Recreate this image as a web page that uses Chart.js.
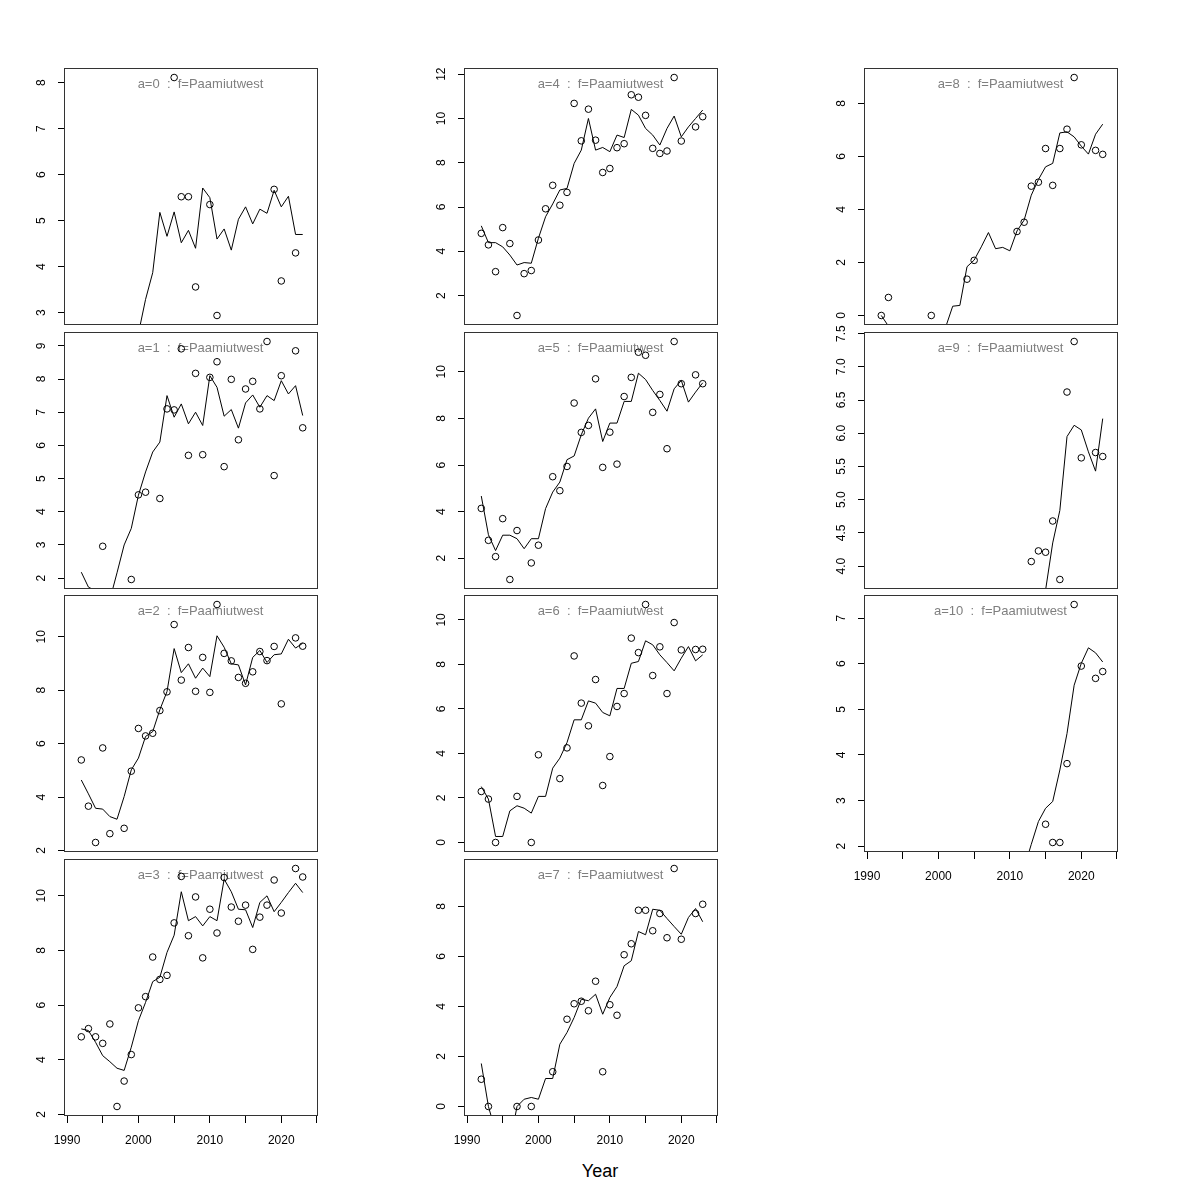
<!DOCTYPE html>
<html>
<head>
<meta charset="utf-8">
<script src="https://cdn.jsdelivr.net/npm/chart.js@4.4.1/dist/chart.umd.min.js"></script>
<style>
  body { margin: 0; background: #fff; width: 1200px; height: 1200px; position: relative; overflow: hidden;
         font-family: "Liberation Sans", Arial, Helvetica, sans-serif; }
  .panel { position: absolute; }
  #xlab { position: absolute; left: 0; width: 1200px; top: 1161px; line-height: 20px;
          text-align: center; font-size: 18px; color: #000; }
</style>
</head>
<body>
<div id="xlab">Year</div>
<script>
// survey years and axis ticks
const years = [1992, 1993, 1994, 1995, 1996, 1997, 1998, 1999, 2000, 2001, 2002, 2003, 2004, 2005, 2006, 2007,
               2008, 2009, 2010, 2011, 2012, 2013, 2014, 2015, 2016, 2017, 2018, 2019, 2020, 2021, 2022, 2023];
const xTickValues = [1990, 1995, 2000, 2005, 2010, 2015, 2020, 2025];
const xTickLabels = ["1990", "", "2000", "", "2010", "", "2020", ""];
const fleetName = "f=Paamiutwest";

// observed index (circles), null = no survey value
const obsA0 = [null, null, null, null, null, null, null, null, null, null, null, null, null, 8.11, 5.52, 5.52,
               3.56, null, 5.35, 2.94, null, null, null, null, null, null, null, 5.68, 3.69, null, 4.30, null];
const obsA1 = [null, null, null, 2.96, null, null, null, 1.96, 4.51, 4.59, null, 4.40, 7.10, 7.07, 8.91, 5.70,
               8.17, 5.72, 8.05, 8.52, 5.36, 7.99, 6.17, 7.70, 7.93, 7.10, 9.13, 5.09, 8.10, null, 8.85, 6.53];
const obsA2 = [5.39, 3.66, 2.30, 5.84, 2.63, null, 2.83, 4.97, 6.57, 6.29, 6.39, 7.24, 7.94, 10.46, 8.38, 9.60,
               7.96, 9.23, 7.92, 11.21, 9.38, 9.10, 8.48, 8.26, 8.69, 9.45, 9.11, 9.64, 7.49, null, 9.96, 9.65];
const obsA3 = [4.84, 5.14, 4.84, 4.60, 5.31, 2.29, 3.22, 4.19, 5.90, 6.31, 7.76, 6.94, 7.09, 9.01, 10.71, 8.54,
               9.96, 7.73, 9.51, 8.64, 10.67, 9.59, 9.07, 9.66, 8.04, 9.22, 9.66, 10.58, 9.37, null, 11.00, 10.69];
const obsA4 = [4.81, 4.29, 3.08, 5.07, 4.35, 1.10, 2.99, 3.13, 4.51, 5.92, 6.98, 6.08, 6.66, 10.68, 8.99, 10.42,
               9.02, 7.56, 7.74, 8.68, 8.86, 11.07, 10.96, 10.14, 8.65, 8.42, 8.53, 11.85, 8.98, null, 9.62, 10.08];
const obsA5 = [4.14, 2.77, 2.07, 3.70, 1.09, 3.19, null, 1.80, 2.56, null, 5.50, 4.90, 5.94, 8.66, 7.40, 7.70,
               9.70, 5.90, 7.41, 6.04, 8.94, 9.76, 10.84, 10.71, 8.26, 9.03, 6.70, 11.30, 9.49, null, 9.87, 9.49];
const obsA6 = [2.29, 1.95, 0, null, null, 2.07, null, 0, 3.94, null, null, 2.87, 4.25, 8.38, 6.26, 5.24,
               7.32, 2.56, 3.86, 6.11, 6.69, 9.18, 8.53, 10.69, 7.50, 8.79, 6.69, 9.88, 8.65, null, 8.67, 8.68];
const obsA7 = [1.09, 0, null, null, null, 0, null, 0, null, null, 1.39, null, 3.49, 4.11, 4.21, 3.83,
               5.01, 1.39, 4.07, 3.65, 6.07, 6.51, 7.85, 7.85, 7.03, 7.72, 6.75, 9.52, 6.69, null, 7.72, 8.09];
const obsA8 = [0, 0.68, null, null, null, null, null, 0, null, null, null, null, 1.37, 2.08, null, null,
               null, null, null, 3.17, 3.52, 4.88, 5.03, 6.30, 4.91, 6.30, 7.03, 8.98, 6.44, null, 6.23, 6.08];
const obsA9 = [null, null, null, null, null, null, null, null, null, null, null, null, null, null, null, null,
               null, null, null, null, null, 4.07, 4.23, 4.21, 4.68, 3.80, 6.62, 7.38, 5.63, null, 5.71, 5.65];
const obsA10 = [null, null, null, null, null, null, null, null, null, null, null, null, null, null, null, null,
                null, null, null, null, null, null, null, 2.48, 2.08, 2.08, 3.81, 7.30, 5.95, null, 5.68, 5.83];

// fitted index (line); null where the line is out of view
const fitA0 = [null, null, null, null, null, null, null, null, 2.55, 3.29, 3.87, 5.18, 4.66, 5.19, 4.52, 4.79,
               4.40, 5.71, 5.50, 4.60, 4.82, 4.36, 5.03, 5.30, 4.93, 5.25, 5.16, 5.66, 5.30, 5.53, 4.70, 4.70];
const fitA1 = [2.18, 1.73, 1.62, null, 1.35, 2.16, 3.00, 3.50, 4.50, 5.20, 5.80, 6.10, 7.50, 6.85, 7.25, 6.65,
               7.00, 6.60, 8.10, 7.75, 6.88, 7.08, 6.52, 7.28, 7.52, 7.15, 7.50, 7.35, 7.95, 7.55, 7.80, 6.90];
const fitA2 = [4.64, 4.12, 3.58, 3.55, 3.27, 3.17, 4.02, 5.02, 5.46, 6.27, 6.45, 7.27, 7.95, 9.56, 8.66, 8.99,
               8.45, 8.83, 8.51, 10.04, 9.61, 8.99, 8.95, 8.20, 9.23, 9.49, 9.04, 9.33, 9.36, 9.91, 9.58, 9.76];
const fitA3 = [5.13, 5.07, 4.64, 4.15, 3.93, 3.69, 3.61, 4.46, 5.43, 6.10, 6.86, 7.02, 7.93, 8.56, 10.15, 9.09,
               9.24, 8.90, 9.24, 9.09, 10.61, 10.15, 9.51, 9.49, 8.84, 9.76, 10.00, 9.42, 9.76, 10.12, 10.46, 10.12];
const fitA4 = [5.15, 4.39, 4.39, 4.20, 3.83, 3.38, 3.49, 3.46, 4.59, 5.56, 6.14, 6.77, 6.84, 7.97, 8.57, 10.00,
               8.57, 8.69, 8.50, 9.25, 9.14, 10.41, 10.15, 9.55, 9.25, 8.80, 9.55, 10.11, 9.17, 9.62, 10.00, 10.38];
const fitA5 = [4.67, 3.01, 2.33, 2.99, 2.99, 2.84, 2.41, 2.84, 2.84, 4.13, 4.84, 5.27, 6.23, 6.39, 7.30, 8.01,
               8.41, 7.01, 7.80, 7.80, 8.73, 8.73, 9.94, 9.67, 9.20, 8.77, 8.31, 9.27, 9.63, 8.70, 9.13, 9.53];
const fitA6 = [2.51, 1.95, 0.27, 0.27, 1.42, 1.65, 1.54, 1.32, 2.07, 2.07, 3.34, 3.79, 4.49, 5.51, 5.51, 6.36,
               6.26, 5.84, 5.69, 6.92, 6.92, 8.05, 8.13, 9.06, 8.88, 8.43, 8.08, 7.71, 8.28, 8.80, 8.16, 8.43];
const fitA7 = [1.72, 0.00, -1.00, null, -1.50, 0.00, 0.29, 0.36, 0.29, 1.12, 1.12, 2.49, 2.96, 3.56, 4.29, 4.23,
               4.49, 3.69, 4.36, 4.80, 5.63, 5.83, 7.00, 6.87, 7.89, 7.85, 7.52, 7.20, 6.89, 7.56, 7.92, 7.39];
const fitA8 = [0.00, -0.40, null, null, null, null, null, null, null, -0.45, 0.35, 0.38, 1.84, 2.09, 2.59, 3.13,
               2.52, 2.57, 2.44, 3.19, 3.60, 4.54, 5.13, 5.61, 5.74, 6.89, 6.93, 6.74, 6.39, 6.09, 6.84, 7.22];
const fitA9 = [null, null, null, null, null, null, null, null, null, null, null, null, null, null, null, null,
               null, null, null, null, null, null, 3.30, 3.64, 4.35, 4.84, 5.95, 6.12, 6.05, 5.72, 5.43, 6.22];
const fitA10 = [null, null, null, null, null, null, null, null, null, null, null, null, null, null, null, null,
                null, null, null, null, 1.52, 2.04, 2.54, 2.83, 2.98, 3.67, 4.47, 5.53, 6.01, 6.35, 6.24, 6.04];

// y tick labels per age panel
const yTicksA0 = ["3", "4", "5", "6", "7", "8"];
const yTicksA1 = ["2", "3", "4", "5", "6", "7", "8", "9"];
const yTicksA2 = ["2", "4", "6", "8", "10"];
const yTicksA3 = ["2", "4", "6", "8", "10"];
const yTicksA4 = ["2", "4", "6", "8", "10", "12"];
const yTicksA5 = ["2", "4", "6", "8", "10"];
const yTicksA6 = ["0", "2", "4", "6", "8", "10"];
const yTicksA7 = ["0", "2", "4", "6", "8"];
const yTicksA8 = ["0", "2", "4", "6", "8"];
const yTicksA9 = ["4.0", "4.5", "5.0", "5.5", "6.0", "6.5", "7.0", "7.5"];
const yTicksA10 = ["2", "3", "4", "5", "6", "7"];

const obsAll = [obsA0, obsA1, obsA2, obsA3, obsA4, obsA5, obsA6, obsA7, obsA8, obsA9, obsA10];
const fitAll = [fitA0, fitA1, fitA2, fitA3, fitA4, fitA5, fitA6, fitA7, fitA8, fitA9, fitA10];
const yTicksAll = [yTicksA0, yTicksA1, yTicksA2, yTicksA3, yTicksA4, yTicksA5, yTicksA6, yTicksA7, yTicksA8, yTicksA9, yTicksA10];

const FONT = '"Liberation Sans", Arial, Helvetica, sans-serif';
Chart.defaults.font.family = FONT;
Chart.defaults.color = "#000";

// layout (R-like 3 x 4 grid of panels)
const BOX_W = 254, BOX_H = 257, AXW = 60, PADT = 10, PADR = 10, XAXH = 45;
const X_MIN = 1989.58, X_MAX = 2025.14;

const measureCtx = document.createElement("canvas").getContext("2d");
measureCtx.font = "12px " + FONT;

// box round the plot region + grey panel label
const panelDeco = {
  id: "panelDeco",
  beforeDatasetsDraw(chart) {
    const { ctx, chartArea: ca } = chart;
    ctx.save();
    ctx.fillStyle = "#7f7f7f";
    ctx.font = "13px " + FONT;
    ctx.textAlign = "center";
    ctx.textBaseline = "middle";
    ctx.fillText(chart.options.plugins.panelDeco.label, (ca.left + ca.right) / 2 + 9.5, ca.top + 16);
    ctx.restore();
  },
  afterDraw(chart) {
    const { ctx, chartArea: ca } = chart;
    ctx.save();
    ctx.strokeStyle = "#333";
    ctx.lineWidth = 1;
    ctx.strokeRect(Math.round(ca.left) + 0.5, Math.round(ca.top) + 0.5,
                   Math.round(ca.right - ca.left) - 1, Math.round(ca.bottom - ca.top) - 1);
    ctx.restore();
  },
};

// scales must not push the plot region around: the panel grid is fixed
function noEdgePadding(s) {
  s.paddingTop = 0; s.paddingBottom = 0; s.paddingLeft = 0; s.paddingRight = 0;
}

function makePanel(a) {
  const col = Math.floor(a / 4), row = a % 4;
  const hasX = (a === 3 || a === 7 || a === 10);
  const boxLeft = 64 + 400 * col;
  const boxTop = 68 + Math.round(263.6 * row);

  const obs = obsAll[a], fit = fitAll[a], yLabels = yTicksAll[a];
  const vals = obs.filter(v => v !== null);
  const lo = Math.min(...vals), hi = Math.max(...vals);
  const ext = (hi - lo) * 0.04;

  const widest = Math.max(...yLabels.map(l => measureCtx.measureText(l).width));

  const w = AXW + BOX_W + PADR;
  const h = PADT + BOX_H + (hasX ? XAXH : PADT);
  const div = document.createElement("div");
  div.className = "panel";
  div.style.left = (boxLeft - AXW) + "px";
  div.style.top = (boxTop - PADT) + "px";
  const cv = document.createElement("canvas");
  cv.width = w; cv.height = h;
  cv.style.width = w + "px"; cv.style.height = h + "px";
  div.appendChild(cv);
  document.body.appendChild(div);

  new Chart(cv, {
    type: "line",
    data: {
      datasets: [
        {
          data: years.map((y, i) => ({ x: y, y: fit[i] })),
          borderColor: "#000",
          borderWidth: 1,
          pointRadius: 0,
          tension: 0,
          spanGaps: false,
        },
        {
          data: years.map((y, i) => ({ x: y, y: obs[i] })).filter(p => p.y !== null),
          showLine: false,
          pointRadius: 3.3,
          pointBorderWidth: 1,
          pointBorderColor: "#000",
          pointBackgroundColor: "rgba(0,0,0,0)",
          borderColor: "#000",
          clip: false,
        },
      ],
    },
    options: {
      responsive: false,
      animation: false,
      events: [],
      devicePixelRatio: 1,
      layout: { padding: { left: 0, top: PADT, right: PADR, bottom: hasX ? 0 : PADT } },
      plugins: {
        legend: { display: false },
        tooltip: { enabled: false },
        panelDeco: { label: "a=" + a + "  :  " + fleetName },
      },
      scales: {
        x: {
          type: "linear",
          min: X_MIN,
          max: X_MAX,
          display: hasX,
          border: { display: false },
          grid: { display: true, drawOnChartArea: false, drawTicks: true, tickLength: 7, color: "#000" },
          ticks: { autoSkip: false, maxRotation: 0, padding: 10, color: "#000", font: { size: 12 },
                   callback: (v, i) => xTickLabels[i] },
          afterBuildTicks: s => { s.ticks = xTickValues.map(v => ({ value: v })); },
          afterFit: s => { if (hasX) s.height = XAXH; noEdgePadding(s); },
        },
        y: {
          type: "linear",
          min: lo - ext,
          max: hi + ext,
          border: { display: false },
          grid: { display: true, drawOnChartArea: false, drawTicks: true, tickLength: 6, color: "#000" },
          ticks: { autoSkip: false, minRotation: 90, maxRotation: 90, crossAlign: "center",
                   padding: 16.3 - widest / 2, color: "#000", font: { size: 12 },
                   callback: (v, i) => yLabels[i] },
          afterBuildTicks: s => { s.ticks = yLabels.map(l => ({ value: Number(l) })); },
          afterFit: s => { s.width = AXW; noEdgePadding(s); },
        },
      },
    },
    plugins: [panelDeco],
  });
}

for (let a = 0; a < 11; a++) makePanel(a);
</script>
</body>
</html>
